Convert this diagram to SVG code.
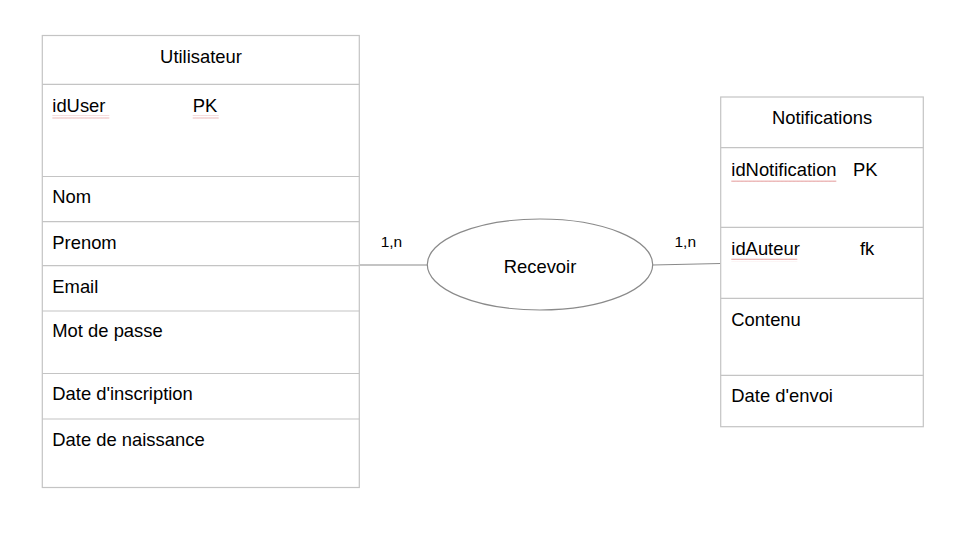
<svg xmlns="http://www.w3.org/2000/svg" width="954" height="533" viewBox="0 0 954 533">
<defs>
<pattern id="wave" width="4" height="3" patternUnits="userSpaceOnUse">
<path d="M0,2 L1,0.5 L2,2 L3,0.5 L4,2" fill="none" stroke="#e39a9a" stroke-width="0.8"/>
</pattern>
</defs>
<style>
.box{fill:#fff;stroke:#c4c4c4;stroke-width:1.2}
.sep{stroke:#c4c4c4;stroke-width:1.2}
.t{font-family:"Liberation Sans",Arial,sans-serif;font-size:18.4px;fill:#000}
.c{text-anchor:middle}
.card{font-family:"Liberation Sans",Arial,sans-serif;font-size:15.5px;fill:#000}
.conn{stroke:#8a8a8a;stroke-width:1.2;fill:none}
.sq{fill:url(#wave)}
</style>
<rect width="954" height="533" fill="#fff"/>
<g id="connectors">
<line class="conn" x1="359.5" y1="265" x2="427.5" y2="265"/>
<line class="conn" x1="652.5" y1="265" x2="720.5" y2="263.5"/>
</g>
<g id="utilisateur">
<rect class="box" x="42.3" y="35.5" width="317" height="452"/>
<line class="sep" x1="42.3" y1="84.3" x2="359.3" y2="84.3"/>
<line class="sep" x1="42.3" y1="176.5" x2="359.3" y2="176.5"/>
<line class="sep" x1="42.3" y1="221.7" x2="359.3" y2="221.7"/>
<line class="sep" x1="42.3" y1="265.7" x2="359.3" y2="265.7"/>
<line class="sep" x1="42.3" y1="311" x2="359.3" y2="311"/>
<line class="sep" x1="42.3" y1="373.5" x2="359.3" y2="373.5"/>
<line class="sep" x1="42.3" y1="419" x2="359.3" y2="419"/>
<text class="t c" x="201" y="63">Utilisateur</text>
<text class="t" x="52.3" y="112">idUser</text>
<text class="t" x="192.7" y="112">PK</text>
<rect class="sq" x="52.3" y="115.5" width="57" height="3"/>
<rect class="sq" x="192.7" y="115.5" width="26" height="3"/>
<text class="t" x="52.3" y="203.3">Nom</text>
<text class="t" x="52.3" y="249">Prenom</text>
<text class="t" x="52.3" y="293.3">Email</text>
<text class="t" x="52.3" y="336.7">Mot de passe</text>
<text class="t" x="52.3" y="400">Date d'inscription</text>
<text class="t" x="52.3" y="446">Date de naissance</text>
</g>
<g id="recevoir">
<ellipse cx="540" cy="264.5" rx="112.7" ry="45.5" fill="#fff" stroke="#8a8a8a" stroke-width="1.2"/>
<text class="t c" x="540" y="272.5">Recevoir</text>
</g>
<g id="cardinalities">
<text class="card" x="380.7" y="246.7">1,n</text>
<text class="card" x="674.5" y="246.5">1,n</text>
</g>
<g id="notifications">
<rect class="box" x="720.7" y="97" width="202.6" height="329.7"/>
<line class="sep" x1="720.7" y1="147.7" x2="923.3" y2="147.7"/>
<line class="sep" x1="720.7" y1="227.3" x2="923.3" y2="227.3"/>
<line class="sep" x1="720.7" y1="298.3" x2="923.3" y2="298.3"/>
<line class="sep" x1="720.7" y1="375.3" x2="923.3" y2="375.3"/>
<text class="t c" x="822" y="124">Notifications</text>
<text class="t" x="731.3" y="175.7">idNotification</text>
<text class="t" x="853" y="175.7">PK</text>
<rect class="sq" x="731.3" y="179" width="105" height="3"/>
<text class="t" x="731.3" y="255">idAuteur</text>
<text class="t" x="860" y="255">fk</text>
<rect class="sq" x="731.3" y="258.3" width="66" height="3"/>
<text class="t" x="731.3" y="325.7">Contenu</text>
<text class="t" x="731.3" y="402.3">Date d'envoi</text>
</g>
</svg>
